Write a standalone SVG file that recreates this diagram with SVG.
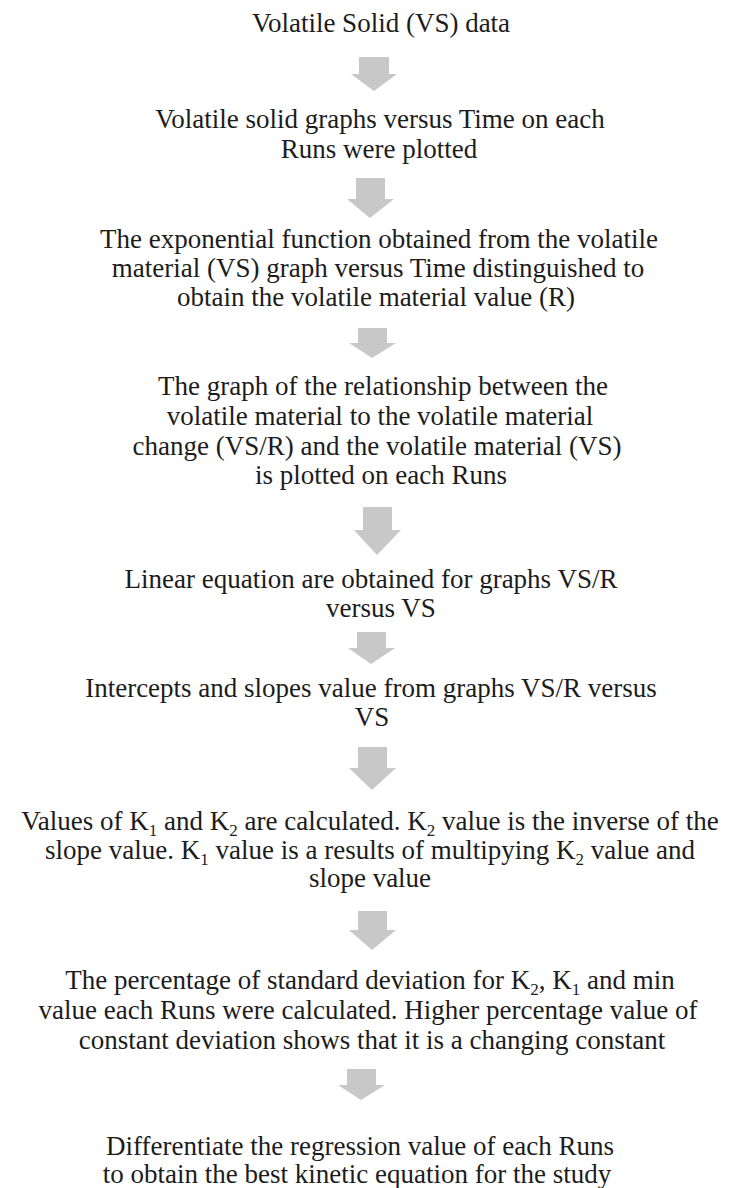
<svg xmlns="http://www.w3.org/2000/svg" width="740" height="1188" viewBox="0 0 740 1188">
<style>
text{font-family:"Liberation Serif","Times New Roman",serif;font-size:27px;fill:#1c1c1c;text-anchor:middle}
.s{font-size:17px}
.arr{fill:#c8c8c8}
</style>
<rect width="740" height="1188" fill="#ffffff"/>
<g id="n1"><text x="381" y="32">Volatile Solid (VS) data</text></g>
<g id="n2"><text x="380" y="128">Volatile solid graphs versus Time on each</text><text x="379" y="158">Runs were plotted</text></g>
<g id="n3"><text x="379" y="248">The exponential function obtained from the volatile</text><text x="378" y="277">material (VS) graph versus Time distinguished to</text><text x="376" y="306">obtain the volatile material value (R)</text></g>
<g id="n4"><text x="383" y="395">The graph of the relationship between the</text><text x="380" y="425">volatile material to the volatile material</text><text x="377" y="455">change (VS/R) and the volatile material (VS)</text><text x="381" y="484">is plotted on each Runs</text></g>
<g id="n5"><text x="371" y="588">Linear equation are obtained for graphs VS/R</text><text x="381" y="617">versus VS</text></g>
<g id="n6"><text x="371" y="697">Intercepts and slopes value from graphs VS/R versus</text><text x="372" y="726">VS</text></g>
<g id="n7"><text x="370" y="830">Values of K<tspan class="s" dy="6">1</tspan><tspan dy="-6"> and K</tspan><tspan class="s" dy="6">2</tspan><tspan dy="-6"> are calculated. K</tspan><tspan class="s" dy="6">2</tspan><tspan dy="-6"> value is the inverse of the</tspan></text><text x="370" y="859">slope value. K<tspan class="s" dy="6">1</tspan><tspan dy="-6"> value is a results of multipying K</tspan><tspan class="s" dy="6">2</tspan><tspan dy="-6"> value and</tspan></text><text x="370" y="887">slope value</text></g>
<g id="n8"><text x="370" y="989">The percentage of standard deviation for K<tspan class="s" dy="6">2</tspan><tspan dy="-6">, K</tspan><tspan class="s" dy="6">1</tspan><tspan dy="-6"> and min</tspan></text><text x="368" y="1019">value each Runs were calculated. Higher percentage value of</text><text x="372" y="1049">constant deviation shows that it is a changing constant</text></g>
<g id="n9"><text x="360" y="1155">Differentiate the regression value of each Runs</text><text x="357" y="1183">to obtain the best kinetic equation for the study</text></g>
<g id="connectors">
<polygon class="arr" points="359,57 389,57 389,74 397,74 374,91 351,74 359,74"/>
<polygon class="arr" points="356,178 385,178 385,199 394,199 370,218 347,199 356,199"/>
<polygon class="arr" points="358,328 387,328 387,343 396,343 372,358 349,343 358,343"/>
<polygon class="arr" points="363,507 392,507 392,530 401,530 377,555 354,530 363,530"/>
<polygon class="arr" points="357,632 386,632 386,648 395,648 371,664 348,648 357,648"/>
<polygon class="arr" points="358,747 387,747 387,768 396,768 372,790 349,768 358,768"/>
<polygon class="arr" points="358,911 387,911 387,930 396,930 372,950 349,930 358,930"/>
<polygon class="arr" points="347,1069 376,1069 376,1085 385,1085 361,1100 338,1085 347,1085"/>
</g>
</svg>
